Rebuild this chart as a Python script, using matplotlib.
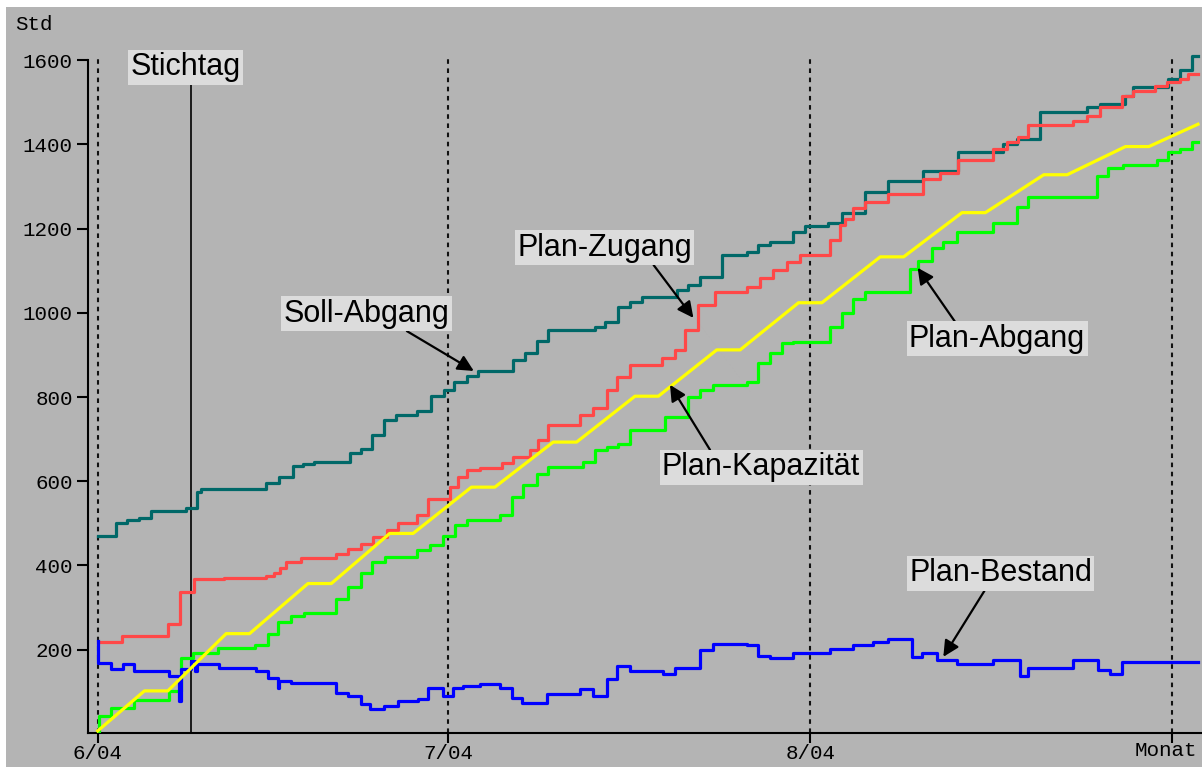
import matplotlib
matplotlib.use("Agg")
import matplotlib.pyplot as plt
from matplotlib.patches import Rectangle

# ---------------- data (x = days since 1 June 2004, y = hours "Std") ----------------
month_days = [0, 30, 61, 92]
month_labels = ["6/04", "7/04", "8/04", ""]
y_ticks = [200, 400, 600, 800, 1000, 1200, 1400, 1600]
stichtag_day = 8

soll_abgang_days = [0, 1.54, 2.48, 3.51, 4.53, 7.53, 8.47, 8.81, 14.37, 15.48, 16.68, 17.54, 18.56,
                    21.56, 22.58, 23.52, 24.55, 25.58, 27.37, 28.57, 29.68, 30.54, 31.65, 32.59,
                    35.59, 36.61, 37.64, 38.58, 42.60, 43.46, 44.57, 45.59, 46.62, 49.62, 50.56,
                    51.58, 53.46, 55.60, 56.54, 57.57, 59.54, 60.56, 62.53, 63.73, 65.70, 67.66,
                    70.66, 73.65, 77.50, 78.70, 80.67, 84.69, 85.80, 87.94, 88.62, 91.62, 92.64,
                    93.67, 94.18]
soll_abgang_vals = [471, 502, 507, 512, 529, 536, 574, 581, 595, 610, 636, 640, 645,
                    667, 676, 710, 745, 757, 767, 802, 817, 836, 850, 862,
                    888, 905, 933, 960, 967, 979, 1014, 1026, 1038, 1055, 1067,
                    1086, 1138, 1145, 1160, 1169, 1193, 1207, 1214, 1236, 1288, 1312,
                    1338, 1383, 1400, 1414, 1476, 1488, 1495, 1514, 1536, 1555, 1576,
                    1610, 1610]

plan_zugang_days = [0, 2.05, 5.99, 7.01, 8.21, 10.78, 14.37, 15.06, 15.65, 16.08, 17.37, 20.36,
                    21.39, 22.50, 23.61, 24.81, 25.75, 27.37, 28.31, 30.20, 30.88, 31.65, 32.76,
                    34.65, 35.59, 37.04, 37.72, 38.58, 41.32, 42.43, 43.63, 44.48, 45.59, 48.33,
                    49.44, 50.30, 51.41, 52.87, 55.60, 56.71, 57.83, 59.02, 60.14, 62.70, 63.56,
                    63.99, 64.67, 65.70, 67.66, 70.66, 72.11, 73.65, 76.65, 77.84, 78.79, 79.64,
                    83.49, 84.69, 85.80, 87.68, 88.62, 90.50, 91.53, 92.64, 93.33, 94.18]
plan_zugang_vals = [217, 233, 260, 336, 367, 371, 376, 383, 395, 407, 417, 428,
                    440, 452, 467, 483, 502, 519, 559, 586, 610, 626, 631,
                    643, 657, 674, 698, 733, 757, 774, 817, 848, 876, 893,
                    912, 960, 1019, 1050, 1062, 1083, 1102, 1121, 1138, 1174, 1209,
                    1224, 1248, 1264, 1283, 1319, 1333, 1362, 1388, 1405, 1417, 1445,
                    1455, 1467, 1488, 1514, 1526, 1538, 1548, 1555, 1567, 1567]

plan_kapazitaet_days = [0, 4, 6, 11, 13, 18, 20, 25, 27, 32, 34, 39, 41, 46, 48, 53, 55,
                        60, 62, 67, 69, 74, 76, 81, 83, 88, 90, 94.2]
plan_kapazitaet_vals = [7, 102, 102, 238, 238, 357, 357, 476, 476, 586, 586, 693, 693,
                        802, 802, 912, 912, 1024, 1024, 1133, 1133, 1238, 1238, 1328,
                        1328, 1395, 1395, 1448]

plan_abgang_days = [0, 0.09, 1.11, 3.08, 6.07, 7.10, 8.13, 10.27, 13.5, 14.54, 15.40, 16.51,
                    17.62, 20.36, 21.47, 22.50, 23.52, 24.64, 27.37, 28.49, 29.60, 30.62, 31.65,
                    34.47, 35.50, 36.44, 37.64, 38.58, 41.57, 42.60, 43.63, 44.57, 45.59, 48.59,
                    50.56, 51.58, 52.69, 55.60, 56.54, 57.57, 58.60, 59.54, 62.70, 63.73, 64.67,
                    65.70, 69.55, 70.23, 71.43, 72.37, 73.57, 76.65, 78.70, 79.64, 85.54, 86.48,
                    87.77, 90.68, 91.62, 92.64, 93.67, 94.18]
plan_abgang_vals = [5, 43, 62, 81, 102, 181, 193, 205, 212, 238, 265, 279,
                    286, 321, 348, 381, 407, 419, 436, 448, 471, 495, 507,
                    519, 562, 590, 617, 633, 645, 674, 681, 688, 721, 752,
                    800, 817, 829, 836, 881, 905, 929, 931, 967, 1000, 1033,
                    1050, 1105, 1124, 1155, 1169, 1193, 1214, 1252, 1276, 1324, 1345,
                    1352, 1364, 1381, 1388, 1405, 1405]

plan_bestand_days = [0, 0.05, 1.11, 2.14, 3.08, 6.07, 7.0, 7.15, 8.0, 8.3, 8.5, 10.35, 13.52,
                     14.54, 15.40, 15.5, 16.51, 20.36, 21.47, 22.50, 23.35, 24.47, 25.75, 27.46,
                     28.31, 29.60, 30.45, 31.31, 32.76, 34.47, 35.50, 36.36, 38.49, 41.32, 42.43,
                     43.63, 44.48, 45.59, 48.42, 49.44, 51.58, 52.69, 55.60, 56.54, 57.57, 59.54,
                     62.70, 64.67, 66.38, 67.66, 69.72, 70.57, 71.86, 73.57, 76.65, 78.96, 79.64,
                     83.49, 85.63, 86.65, 87.68, 94.18]
plan_bestand_vals = [221, 169, 155, 167, 150, 138, 79, 155, 174, 150, 167, 157, 150,
                     133, 110, 126, 121, 98, 90, 71, 60, 67, 79, 83,
                     110, 90, 110, 114, 119, 110, 86, 74, 95, 107, 90,
                     131, 162, 150, 143, 157, 198, 214, 210, 186, 179, 193,
                     202, 212, 217, 226, 183, 193, 176, 167, 176, 138, 157,
                     176, 152, 143, 171, 171]

# ---------------- styling ----------------
BG = "#b4b4b4"
BOX = "#dcdcdc"
MONO = ["Liberation Mono", "DejaVu Sans Mono"]
SANS = ["Liberation Sans", "DejaVu Sans"]

W, H = 1202, 767
fig = plt.figure(figsize=(W / 100, H / 100), dpi=100, facecolor="white")
fig.patches.append(Rectangle((6 / W, 0), 1 - 6 / W, 1 - 7 / H, transform=fig.transFigure,
                             facecolor=BG, edgecolor="none", zorder=-10))

x0_px, px_per_day = 97.7, 11.68
left_px, bottom_px, top_px = 88, 733, 7
ax = fig.add_axes([left_px / W, 1 - bottom_px / H, (W - left_px) / W, (bottom_px - top_px) / H])
ax.set_facecolor("none")
ax.set_xlim((left_px - x0_px) / px_per_day, (W - x0_px) / px_per_day)
ax.set_ylim(2, 2 + (bottom_px - top_px) / 0.421)

for s in ["top", "right"]:
    ax.spines[s].set_visible(False)
ax.spines["left"].set_bounds(2, 1600)
ax.spines["left"].set_linewidth(1.5)
ax.spines["bottom"].set_linewidth(1.5)

ax.set_yticks(y_ticks)
ax.set_yticklabels([str(v) for v in y_ticks], fontfamily=MONO, fontsize=15)
ax.set_xticks(month_days)
ax.set_xticklabels(month_labels, fontfamily=MONO, fontsize=15)
ax.tick_params(axis="y", length=8, width=1.5, pad=3, colors="black")
ax.tick_params(axis="x", length=7, width=1.5, pad=1, colors="black")

# month dashed lines
ax.vlines(month_days, 2, 1610, colors="#111111", linewidth=1.5, linestyles=(0, (2.2, 2.2)), zorder=1)
# Stichtag line
ax.vlines([stichtag_day], 2, 1545, colors="black", linewidth=1.2, zorder=1)

lw = 2.3
ax.step(soll_abgang_days, soll_abgang_vals, where="post", color="#006868", lw=lw, zorder=3)
ax.step(plan_zugang_days, plan_zugang_vals, where="post", color="#ff4848", lw=lw, zorder=3)
ax.step(plan_abgang_days, plan_abgang_vals, where="post", color="#00ff00", lw=lw, zorder=4)
ax.plot(plan_kapazitaet_days, plan_kapazitaet_vals, color="#ffff00", lw=lw, zorder=5)
ax.step(plan_bestand_days, plan_bestand_vals, where="post", color="#0000ff", lw=lw, zorder=4)

bbox = dict(boxstyle="square,pad=0.08", facecolor=BOX, edgecolor="none")
tkw = dict(fontsize=22, fontfamily=SANS, color="black", ha="center", va="center", bbox=bbox, zorder=6)
ap = dict(arrowstyle="-|>", color="black", lw=1.6, mutation_scale=24, shrinkA=0, shrinkB=0)

ax.text(7.5, 1583, "Stichtag", **tkw)
ax.annotate("Soll-Abgang", xy=(32.2, 862), xytext=(23.0, 998),
            arrowprops=dict(ap, relpos=(0.72, 0.0)), **tkw)
ax.annotate("Plan-Zugang", xy=(51.0, 988), xytext=(43.4, 1155),
            arrowprops=dict(ap, relpos=(0.77, 0.0)), **tkw)
ax.annotate("Plan-Kapazität", xy=(49.0, 829), xytext=(56.8, 633),
            arrowprops=dict(ap, relpos=(0.25, 1.0)), **tkw)
ax.annotate("Plan-Abgang", xy=(70.2, 1107), xytext=(77.0, 938),
            arrowprops=dict(ap, relpos=(0.27, 1.0)), **tkw)
ax.annotate("Plan-Bestand", xy=(72.4, 183), xytext=(77.3, 381),
            arrowprops=dict(ap, relpos=(0.42, 0.0)), **tkw)

fig.text(15 / W, 1 - 25 / H, "Std", fontfamily=MONO, fontsize=15, ha="left", va="center")
fig.text(1197 / W, 1 - 751 / H, "Monat", fontfamily=MONO, fontsize=15, ha="right", va="center")

fig.savefig("out.png", dpi=100, facecolor=fig.get_facecolor())
